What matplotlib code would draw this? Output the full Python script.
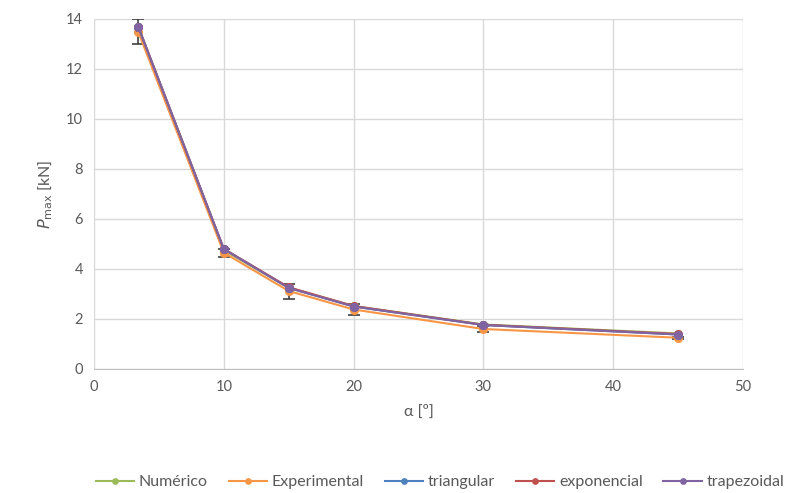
import matplotlib
matplotlib.use("Agg")
import matplotlib.pyplot as plt

alpha = [3.4, 10, 15, 20, 30, 45]
numerico = [13.7, 4.75, 3.25, 2.52, 1.78, 1.42]
experimental = [13.5, 4.65, 3.12, 2.38, 1.6, 1.25]
exp_err = [0.5, 0.15, 0.3, 0.22, 0.12, 0.05]
triangular = [13.7, 4.8, 3.25, 2.5, 1.76, 1.38]
exponencial = [13.7, 4.8, 3.27, 2.52, 1.77, 1.4]
trapezoidal = [13.7, 4.8, 3.24, 2.5, 1.76, 1.38]

plt.rcParams['font.family'] = ['Lato', 'DejaVu Sans']
fig = plt.figure(figsize=(7.96, 4.93), dpi=100)
ax = fig.add_axes([94/796, 1-369/493, (743-94)/796, (369-19)/493])

tc = '#595959'
ax.errorbar(alpha, experimental, yerr=exp_err, fmt='none', ecolor='#404040',
            elinewidth=1.2, capsize=4, capthick=1.2, zorder=2)
series = [
    ('Numérico', numerico, '#9BBB59'),
    ('Experimental', experimental, '#F79646'),
    ('triangular', triangular, '#4F81BD'),
    ('exponencial', exponencial, '#C0504D'),
    ('trapezoidal', trapezoidal, '#8064A2'),
]
for name, vals, c in series:
    ax.plot(alpha, vals, color=c, lw=1.5, marker='o', ms=5.5, label=name, zorder=3)

ax.set_xlim(0, 50)
ax.set_ylim(0, 14)
ax.set_xticks(range(0, 51, 10))
ax.set_yticks(range(0, 15, 2))
ax.grid(True, color='#D9D9D9', lw=1)
ax.set_axisbelow(True)
for s in ['top', 'right', 'left']:
    ax.spines[s].set_visible(False)
ax.spines['bottom'].set_color('#BFBFBF')
ax.tick_params(length=0, colors=tc, labelsize=10.5, pad=8)
ax.set_xlabel('α [º]', fontsize=11.5, color=tc, labelpad=8)
ax.set_ylabel(r'$P_{\mathrm{max}}$ [kN]', fontsize=11.5, color=tc, labelpad=8)

leg = fig.legend(loc='center', bbox_to_anchor=(440/796, 1-482/493), ncol=5, frameon=False,
                 fontsize=11.5, handlelength=2.4, columnspacing=1.3, handletextpad=0.3,
                 markerscale=0.7)
for t in leg.get_texts():
    t.set_color(tc)
fig.savefig('out.png', dpi=100)
